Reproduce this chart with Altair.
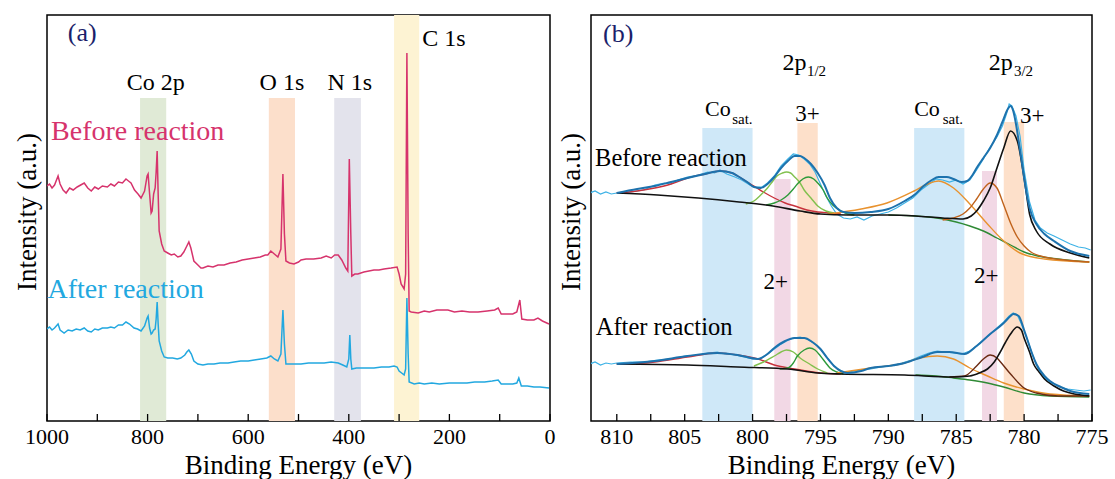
import altair as alt
import pandas as pd

FONT = "Liberation Serif"
WA, WB, H = 503, 501, 406
YDOM = [13, 419]

# ---------------- Panel (a): survey spectra (eV, intensity a.u.) ----------------
survey_before = [
(1000,248),(995,250),(990,246),(985,249),(978,258),(974,250),(968,244),(962,241),(955,246),(948,244),
(940,247),(933,249),(926,251),(919,246),(912,243),(905,247),(898,245),(890,248),(880,247),(873,250),
(866,248),(858,252),(850,251),(843,255),(838,253),(833,251),(826,244),(819,240),(813,236),(806,243),
(801,258),(799,260),(796,240),(793,221),(791,223),(788,240),(785,246),(783,262),(781,283),(779,240),
(777,203),(772,190),(767,183),(760,181),(753,179),(747,180),(740,177),(734,178),(728,182),(722,188),
(718,192),(714,186),(708,173),(700,169),(694,166),(690,166),(680,168),(670,167),(660,169),(648,169),
(636,171),(624,172),(612,174),(600,175),(588,176),(576,177),(566,179),(561,179),(555,183),(548,180),
(541,177),(535,185),(531,260),(528,200),(525,173),(518,171),(509,170),(500,172),(495,174),(485,175),
(470,175),(455,176),(445,178),(435,176),(428,179),(421,179),(414,174),(406,166),(402,163),(399,275),
(396,200),(394,158),(388,160),(382,160),(370,162),(360,163),(350,164),(340,164),(330,165),(316,166),
(304,167),(300,160),(296,150),(290,145),(287,160),(284.5,381),(282,200),(280,123),(276,122),(262,121),
(250,123),(240,122),(225,124),(203,124),(190,122),(175,123),(160,122),(143,122),(125,123),(110,124),
(103,126),(97,120),(86,120),(74,120),(66,122),(60,134),(56,115),(45,114),(32,114),(24,116),(15,113),(2,110)]

survey_after = [
(1000,105),(995,107),(990,104),(985,106),(978,110),(974,104),(966,101),(958,104),(950,103),(942,105),
(934,104),(926,106),(919,103),(912,102),(905,105),(898,104),(890,106),(880,106),(873,107),(866,106),
(858,109),(850,109),(843,112),(836,110),(827,106),(820,105),(813,103),(806,108),(801,116),(799,118),
(796,106),(793,100),(791,101),(788,104),(785,105),(783,115),(781,132),(779,110),(777,93),(772,83),
(767,77),(760,76),(750,76),(741,75),(734,76),(726,79),(722,82),(718,84),(713,80),(708,73),(700,70),
(690,69),(680,70),(668,70),(656,71),(640,71),(628,72),(615,73),(600,73),(588,74),(575,75),(563,76),
(555,78),(548,75),(541,73),(535,80),(531,124),(528,90),(525,70),(515,70),(505,70),(495,70),(480,71),
(465,71),(449,71),(435,72),(421,71),(412,69),(404,67),(400,75),(398,99),(396,75),(394,65),(385,66),
(375,66),(362,66),(350,66),(335,67),(320,67),(310,68),(304,67),(300,63),(295,61),(290,59),(287,65),
(284.5,136),(282,80),(280,52),(270,50),(260,51),(250,50),(235,51),(220,50),(200,51),(183,51),(165,51),
(150,52),(130,52),(115,53),(103,54),(97,50),(86,50),(74,50),(66,51),(62,56),(57,48),(45,48),(32,47),
(20,47),(2,46)]

# bands: (start eV, end eV, top intensity, colour)
bands_a = [(815, 763, 336, "#e0ead6"), (559, 507, 336, "#fcdfcb"),
           (429, 376, 336, "#e3e3ec"), (310, 260, 419, "#fdf3d3")]
ticks_a = [1000, 900, 800, 700, 600, 500, 400, 300, 200, 100, 0]
labels_a = [1000, 800, 600, 400, 200, 0]

PINK, BLUE, NAVY = "#d6336c", "#22a8e0", "#1b1f6b"
# (eV, intensity, text, size, colour, align)
texts_a = [
    (930, 393, "(a)", 26, NAVY, "center"),
    (784, 344, "Co 2p", 24, "black", "center"),
    (533, 344, "O 1s", 24, "black", "center"),
    (398, 344, "N 1s", 24, "black", "center"),
    (254, 388, "C 1s", 24, "black", "left"),
    (992, 294, "Before reaction", 28, PINK, "left"),
    (999, 136, "After reaction", 28, BLUE, "left"),
]

# ---------------- Panel (b): Co 2p high resolution ----------------
raw_before = [
(812.0,241),(811.6,243),(811.2,240),(810.8,242),(810.4,240),(810,241),(809,242),(808,244),(807.2,249),
(806.5,251),(806,250),(805.5,254),(804.8,257),(804,259),(803.3,262),(802.8,261),(802.4,264),(801.9,260),
(801.3,257),(800.8,254),(800.2,249),(799.8,247),(799.3,247),(798.9,251),(798.4,258),(797.9,268),(797.4,275),
(797,280),(796.6,279),(796.2,275),(795.8,270),(795.4,262),(795,250),(794.6,238),(794.2,228),(793.8,220),
(793.3,216),(792.8,215),(792.3,217),(791.8,214),(791.2,218),(790.6,220),(790,222),(789.4,226),(788.8,231),
(788.2,236),(787.6,244),(787,250),(786.5,255),(786,254),(785.5,252),(785,254),(784.5,250),(784,254),
(783.5,264),(783,275),(782.5,287),(782,297),(781.6,308),(781.3,320),(781.1,330),(780.9,328),(780.6,318),
(780.3,298),(780,264),(779.6,232),(779.2,214),(778.8,206),(778.3,201),(777.8,198),(777.2,194),(776.6,190),
(776,187),(775.5,186),(775.1,184)]
env_before = [
(810,241),(808.5,245),(807.2,248),(806,252),(804.8,256),(803.5,260),(802.4,263),(801.5,261),(801.1,258),
(800.4,252),(799.9,247),(799.4,246),(798.9,250),(798.4,257),(797.9,266),(797.4,273),(796.9,278),(796.5,278),
(796.2,276),(795.7,270),(795.2,261),(794.7,249),(794.3,236),(793.8,226),(793.3,222),(792.5,221),(791.3,222),
(790,225),(788.8,233),(788,240),(787.4,248),(786.8,254),(786.3,257),(785.7,257),(785.2,255),(784.6,252),
(784.2,253),(783.8,259),(783.5,266),(783,276),(782.5,286),(782,299),(781.6,312),(781.2,325),(781,328),
(780.8,323),(780.6,310),(780.4,293),(780.2,275),(780,256),(779.6,226),(779.1,210),(778.5,200),(777.8,193),
(776.6,183),(775.2,178)]
sat1_before = [(810,241),(808.5,243),(807.2,246),(806,250),(804.8,256),(803.5,260),(802.4,263),(801.5,261),
(801.1,258),(800.4,252),(799.9,248),(799.2,242),(798.4,236),(797.6,231),(796.9,228),(796,224),(795.2,222),
(794.2,221),(793.5,220)]
p2_12_before = [(800.5,230),(799.9,233),(799.4,239),(798.9,246),(798.5,253),(798.2,258),(797.8,261),(797.5,262),
(797.2,261),(796.9,257),(796.5,251),(796.2,244),(795.7,236),(795.2,228),(794.6,223),(794.0,221)]
p3_12_before = [(799,229),(798.4,231),(797.9,234),(797.4,239),(797,245),(796.7,250),(796.3,255),(795.9,257),
(795.5,255),(795.2,251),(794.8,244),(794.5,236),(794.1,229),(793.5,223),(793,220),(792.5,219)]
black_before = [(810,241),(807,239),(804,236),(801,232),(798.5,228),(796.5,223),(795,220),(793,219),(790,219),
(788,218),(786,216),(784.5,215),(783.9,218),(783.5,223),(783,233),(782.5,246),(782,266),(781.5,286),
(781,303),(780.5,293),(780,256),(779.6,220),(779.1,203),(778.1,190),(776.6,181),(775.2,176)]
bg_before = [(790,219),(787,217),(785,212),(784,208),(783,203),(782,196),(781,189),(780,182),(779,178),
(777.5,175),(775.2,172)]
sat3_before = [(794.5,220),(792,225),(790.1,231),(788.1,243),(787.1,250),(786.3,253),(785.2,246),(784,230),
(782.7,210),(781.5,193),(780.3,181),(778.5,175),(775.2,172)]
p2_32_before = [(786,214),(785.2,216),(784.5,220),(784,226),(783.5,235),(783,245),(782.5,251),(782,246),
(781.5,229),(781,211),(780.5,197),(780,188),(779.5,182),(778.5,177),(777,174),(775.2,172)]

raw_after = [
(812.0,70),(811.6,72),(811.2,69),(810.8,71),(810.4,70),(810,71),(809,72),(808,72),(807,74),(806,75),(805,78),
(804,79),(803.3,81),(802.6,82),(802,80),(801.3,79),(800.6,77),(800,75),(799.5,75),(799,79),(798.5,84),(798,89),
(797.5,93),(797,96),(796.5,97),(796,95),(795.5,91),(795,85),(794.5,76),(794,68),(793.5,63),(793,62),(792.5,63),
(792,64),(791.3,65),(790.5,67),(789.8,68),(789,71),(788.3,74),(787.6,78),(787,81),(786.4,83),(785.8,82),
(785.2,81),(784.6,80),(784,83),(783.5,88),(783,94),(782.5,100),(782,106),(781.5,112),(781.1,118),(780.8,121),
(780.5,119),(780.2,110),(779.8,96),(779.4,80),(779,66),(778.5,56),(778,51),(777.4,47),(776.8,45),(776.2,44),
(775.6,43),(775.1,44)]
env_after = [(810,70),(807.2,73),(804.8,78),(802.6,81),(801.1,79),(799.6,75),(799,79),(798.4,86),(797.6,93),
(796.9,96),(796.2,96),(795.6,92),(795,85),(794.5,76),(794,68),(793.5,63),(793,61),(792,63),(791.3,66),(790,68),
(788.8,71),(787.5,77),(786.4,82),(785.5,82),(784.4,80),(783.5,88),(782.5,100),(781.5,111),(781,118),
(780.8,120),(780.4,118),(780,104),(779.8,96),(779.4,80),(779.1,70),(778.5,58),(778.1,53),(777.3,47),
(776.6,43),(775.2,40)]
sat1_after = [(810,70),(807.2,72),(804.8,77),(802.6,81),(801.1,79),(799.6,75),(798.4,69),(796.9,65),(795,61),
(793.5,60)]
p2_12_after = [(799.9,68),(799.2,72),(798.4,78),(797.9,82),(797.5,84),(797,82),(796.5,76),(795.8,70),(795.2,65),
(794.5,61)]
p3_12_after = [(798,65),(797.4,66),(797,71),(796.7,78),(796.2,84),(795.8,86),(795.4,84),(795,78),(794.6,71),
(794.3,66),(793.8,62),(793.3,60)]
black_after = [(810,70),(804.8,69),(801.1,67),(797.4,65),(795.2,61),(793.5,60),(788.8,59),(785.2,57),(784,58),
(783.3,61),(782.7,65),(782.2,72),(781.8,81),(781.4,91),(781,100),(780.5,107),(780.2,104),(780,96),(779.6,82),
(779.3,70),(778.9,62),(778.5,55),(777.8,48),(777.1,43),(775.2,38)]
bg_after = [(788,59),(786.5,58),(785.2,56),(784,54),(782.7,51),(781.5,47),(780,41),(778.1,38),(775.2,37)]
sat3_after = [(793.8,61),(791.3,66),(788.8,71),(787.7,76),(786.4,78),(785.2,75),(784,66),(782.7,58),(781.5,51),
(780,45),(778.1,40),(775.2,38)]
p2_32_after = [(785.5,57),(784.4,58),(783.5,68),(783,75),(782.5,79),(782,76),(781.8,73),(781,60),(780,46),
(779.1,41),(777.5,38),(775.2,38)]

bands_b = [(803.7, 800.0, 306, "#cfe8f8"), (798.4, 797.2, 255, "#f2d8e5"), (796.7, 795.2, 311, "#fde0ca"),
           (788.1, 784.4, 306, "#cfe8f8"), (783.1, 782.0, 263, "#f2d8e5"), (781.5, 780.0, 312, "#fde0ca")]
ticks_b = [810, 807.5, 805, 802.5, 800, 797.5, 795, 792.5, 790, 787.5, 785, 782.5, 780, 777.5, 775]
labels_b = [810, 805, 800, 795, 790, 785, 780, 775]

texts_b_center = [(809.9, 392, "(b)", 26, NAVY)]
texts_b_left = [
    (797.8, 364, "2p", 24, "black"), (796.0, 358, "1/2", 15, "black"),
    (782.6, 364, "2p", 24, "black"), (780.75, 358, "3/2", 15, "black"),
    (803.5, 318, "Co", 22, "black"), (801.5, 310, "sat.", 15, "black"),
    (788.1, 318, "Co", 22, "black"), (786.0, 310, "sat.", 15, "black"),
    (796.85, 313, "3+", 23, "black"), (780.3, 311, "3+", 23, "black"),
    (799.2, 145, "2+", 23, "black"), (783.7, 151, "2+", 23, "black"),
    (811.6, 268, "Before reaction", 24.5, "black"), (811.55, 99, "After reaction", 24.5, "black"),
]

X_TITLE = "Binding Energy (eV)"
Y_TITLE = "Intensity (a.u.)"

RAW, ENV = "#3db2e6", "#1d72ad"
curves_b = [
    (raw_before, RAW, 1.2, "linear"), (raw_after, RAW, 1.2, "linear"),
    (sat1_before, "#c8323c", 1.4, "monotone"), (sat1_after, "#c8323c", 1.4, "monotone"),
    (p2_12_before, "#82c04e", 1.4, "monotone"), (p2_12_after, "#82c04e", 1.4, "monotone"),
    (p3_12_before, "#2e9a3a", 1.4, "monotone"), (p3_12_after, "#2e9a3a", 1.4, "monotone"),
    (bg_before, "#2f8a35", 1.4, "monotone"), (bg_after, "#2f8a35", 1.4, "monotone"),
    (sat3_before, "#e8922e", 1.4, "monotone"), (sat3_after, "#e8922e", 1.4, "monotone"),
    (p2_32_before, "#c0631c", 1.4, "monotone"), (p2_32_after, "#6b2a12", 1.4, "monotone"),
    (black_before, "#111111", 1.6, "monotone"), (black_after, "#111111", 1.6, "monotone"),
    (env_before, ENV, 2.0, "monotone"), (env_after, ENV, 2.0, "monotone"),
]


def make_axes(domain):
    x = alt.X("eV:Q", scale=alt.Scale(domain=domain, nice=False, zero=False), axis=None)
    y = alt.Y("I:Q", scale=alt.Scale(domain=YDOM, nice=False, zero=False), axis=None)
    return x, y


def band_layer(bands, X, Y):
    df = pd.DataFrame({"eV": [b[0] for b in bands], "eV2": [b[1] for b in bands],
                       "I": [b[2] for b in bands], "I2": [YDOM[0]] * len(bands),
                       "c": [b[3] for b in bands]})
    return alt.Chart(df).mark_rect().encode(x=X, x2="eV2:Q", y=Y, y2="I2:Q",
                                            color=alt.Color("c:N", scale=None))


def line_layer(pts, color, width, interp, X, Y):
    df = pd.DataFrame({"eV": [p[0] for p in pts], "I": [p[1] for p in pts]})
    return alt.Chart(df).mark_line(color=color, strokeWidth=width, interpolate=interp,
                                   clip=True).encode(x=X, y=Y)


def tick_layer(ticks, X):
    df = pd.DataFrame({"eV": ticks})
    return alt.Chart(df).mark_rule(color="black", strokeWidth=1.3).encode(
        x=X, y=alt.value(H), y2=alt.value(H - 7))


def ticklabel_layer(values, X):
    df = pd.DataFrame({"eV": values, "t": [str(v) for v in values]})
    return alt.Chart(df).mark_text(font=FONT, fontSize=22, align="center", baseline="top",
                                   color="black").encode(x=X, y=alt.value(H + 6), text="t:N")


def titles_layer(width):
    xt = alt.Chart(pd.DataFrame({"t": [X_TITLE]})).mark_text(
        font=FONT, fontSize=27, align="center", baseline="top", color="black"
    ).encode(text="t:N", x=alt.value(width / 2), y=alt.value(H + 32))
    yt = alt.Chart(pd.DataFrame({"t": [Y_TITLE]})).mark_text(
        font=FONT, fontSize=27, align="center", baseline="bottom", angle=270, color="black"
    ).encode(text="t:N", x=alt.value(-5), y=alt.value(H / 2 - 6))
    return [xt, yt]


def text_layer(rows, align, X, Y):
    df = pd.DataFrame({"eV": [r[0] for r in rows], "I": [r[1] for r in rows],
                       "t": [r[2] for r in rows], "s": [r[3] for r in rows],
                       "c": [r[4] for r in rows]})
    return alt.Chart(df).mark_text(font=FONT, align=align, baseline="alphabetic").encode(
        x=X, y=Y, text="t:N", size=alt.Size("s:Q", scale=None), color=alt.Color("c:N", scale=None))


# ---- panel (a)
XA, YA = make_axes([1000, 0])
layers_a = [band_layer(bands_a, XA, YA),
            line_layer(survey_before, PINK, 1.5, "linear", XA, YA),
            line_layer(survey_after, BLUE, 1.5, "linear", XA, YA),
            tick_layer(ticks_a, XA), ticklabel_layer(labels_a, XA)]
ta_left = [(r[0], r[1], r[2], r[3], r[4]) for r in texts_a if r[5] == "left"]
ta_center = [(r[0], r[1], r[2], r[3], r[4]) for r in texts_a if r[5] == "center"]
layers_a += [text_layer(ta_left, "left", XA, YA), text_layer(ta_center, "center", XA, YA)]
layers_a += titles_layer(WA)
panel_a = alt.layer(*layers_a).properties(width=WA, height=H)

# ---- panel (b)
XB, YB = make_axes([811.9, 775])
layers_b = [band_layer(bands_b, XB, YB)]
for pts, col, w, interp in curves_b:
    layers_b.append(line_layer(pts, col, w, interp, XB, YB))
layers_b += [tick_layer(ticks_b, XB), ticklabel_layer(labels_b, XB),
             text_layer(texts_b_left, "left", XB, YB),
             text_layer(texts_b_center, "center", XB, YB)]
layers_b += titles_layer(WB)
panel_b = alt.layer(*layers_b).properties(width=WB, height=H)

chart = alt.hconcat(panel_a, panel_b, spacing=0).properties(
    padding={"left": 13, "top": 14, "right": 0, "bottom": 0}
).configure(background="white").configure_view(stroke="black", strokeWidth=1.5)

chart.save("out.html", embed_options={"renderer": "svg", "actions": False})
